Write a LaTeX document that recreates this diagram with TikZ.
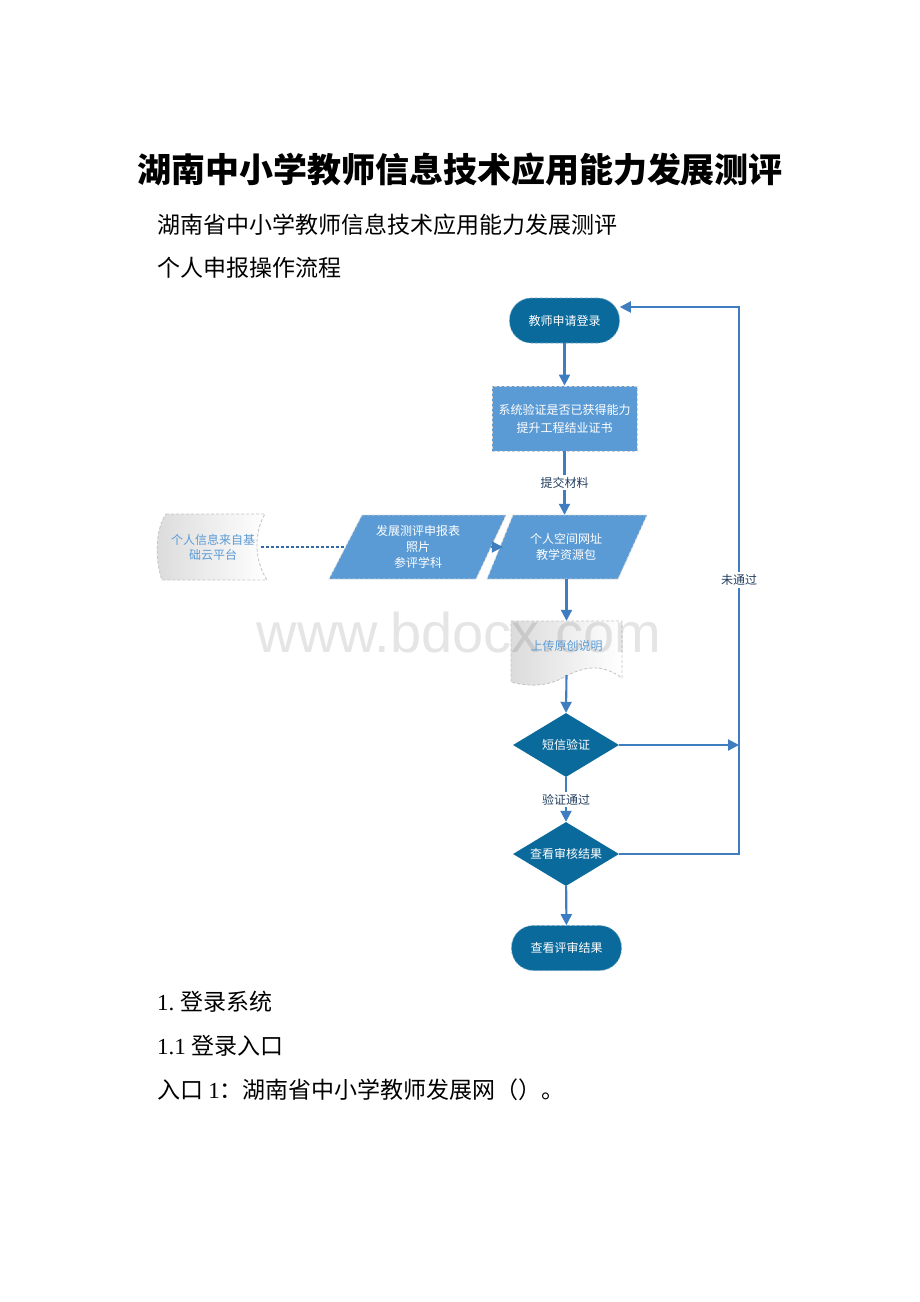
\documentclass[tikz,border=0pt]{standalone}
\usepackage{fontspec}
\setmainfont{Liberation Serif}
\newfontfamily\cjk{Noto Sans CJK SC}
\newfontfamily\wmfont{Liberation Sans}
\usetikzlibrary{shapes.geometric,arrows.meta,calc,backgrounds}
\definecolor{dark}{HTML}{0B6A9C}
\definecolor{lightbox}{HTML}{5B9BD5}
\definecolor{flow}{HTML}{3D7DC0}
\definecolor{doctext}{HTML}{5B9BD5}
\definecolor{lbl}{HTML}{243F60}
\begin{document}
\begin{tikzpicture}[x=1pt,y=-1pt,
  chart/.style={font=\cjk\fontsize{12}{16}\selectfont, align=center, text=white, inner sep=0pt},
  term/.style={chart, rectangle, rounded corners=22pt, fill=dark, draw=dark!60!white, densely dashed, line width=0.6pt, minimum width=110pt, minimum height=45pt},
  sysbox/.style={chart, rectangle, fill=lightbox, draw=gray!35, densely dashed, line width=0.8pt, minimum width=145pt, minimum height=65pt, font=\cjk\fontsize{12}{18}\selectfont},
  paratext/.style={chart, rectangle, minimum height=64pt},
  dec/.style={chart, diamond, fill=dark, aspect=1.66, minimum width=106pt, minimum height=64pt},
  doctxt/.style={chart, text=doctext, rectangle, font=\cjk\fontsize{12}{15}\selectfont},
  paraface/.style={fill=lightbox, draw=gray!30, densely dashed, line width=0.8pt},
  docface/.style={left color=gray!28, right color=white, draw=gray!45, densely dashed, line width=0.9pt},
  arr/.style={draw=flow, line width=2.1pt, -{Triangle[length=11pt,width=11pt]}},
  dashlink/.style={draw=flow!85!black, line width=1.8pt, dash pattern=on 3pt off 2pt},
  edgelbl/.style={font=\cjk\fontsize{12}{14}\selectfont, text=lbl, fill=white, inner sep=2pt},
  body/.style={font=\cjk\fontsize{23}{28}\selectfont, anchor=west, inner sep=0pt}
]
\begin{scope}[on background layer]
\fill[white] (0,0) rectangle (920,1302);
\end{scope}
\useasboundingbox (0,0) rectangle (920,1302);

% texts
\node[font=\cjk\bfseries\fontsize{34}{40}\selectfont, inner sep=0pt] (title) at (460,170) {湖南中小学教师信息技术应用能力发展测评};
\node[body] (sub1) at (157,225) {湖南省中小学教师信息技术应用能力发展测评};
\node[body] (sub2) at (157,268) {个人申报操作流程};
\node[body] (sec1) at (157,1002) {\rmfamily 1.\ \cjk 登录系统};
\node[body] (sec11) at (157,1046) {\rmfamily 1.1\ \cjk 登录入口};
\node[body] (entry) at (157,1090) {入口\ \rmfamily 1\cjk ：湖南省中小学教师发展网（）。};

% shapes behind the text nodes
\begin{scope}[on background layer]
\path[paraface] (362,515) -- (506,515) -- (476,579) -- (329,579) -- cycle;
\path[paraface] (513,515) -- (647,515) -- (618,579) -- (487,579) -- cycle;
\path[docface] (166,514) -- (265,514) .. controls (254,532) and (254,560) .. (267,580)
   -- (162,580) .. controls (155,560) and (155,530) .. (166,514) -- cycle;
\path[docface] (511,621) -- (622,621) -- (622,678) .. controls (600,662) and (582,668) .. (566,676)
   .. controls (546,688) and (526,686) .. (511,682) -- cycle;
\end{scope}

% watermark (behind the chart texts)
\node[font=\wmfont\fontsize{56}{60}\selectfont, text=black, opacity=0.1, anchor=base, inner sep=0pt] (wm) at (459,652) {www.bdocx.com};

% flow nodes
\node[term] (start) at (564.5,320.5) {教师申请登录};
\node[sysbox] (sys) at (564.5,418.5) {系统验证是否已获得能力\\提升工程结业证书};
\node[paratext, minimum width=146pt] (p1) at (418,547) {发展测评申报表\\照片\\参评学科};
\node[paratext, minimum width=132pt] (p2) at (566,547) {个人空间网址\\教学资源包};
\node[doctxt, minimum width=96pt, minimum height=66pt] (src) at (213,547) {个人信息来自基\\础云平台};
\node[doctxt, minimum width=111pt, minimum height=50pt] (up) at (566.5,646) {上传原创说明};
\node[dec] (d1) at (566,745) {短信验证};
\node[dec] (d2) at (566,854) {查看审核结果};
\node[term] (end) at (566.5,948) {查看评审结果};
\coordinate (looptop) at (739,307);

% connectors
\draw[arr] (start) -- (sys);
\draw[arr] (sys.south) -- (sys.south |- p2.north) node[edgelbl, pos=0.49] {提交材料};
\draw[dashlink] (src.east) -- (p1.west);
\draw[arr] (p1.east) -- ($(p2.west)+(3,0)$);
\draw[arr] (up.north |- p2.south) -- (up.north);
\draw[arr] ($(up.south)+(0,4)$) -- (d1.north);
\draw[arr] (d1.east) -- (d1.east -| looptop);
\draw[arr] (d1.south) -- (d2.north) node[edgelbl, midway] {验证通过};
\draw[arr] (d2.east) -- (d2.east -| looptop) -- (looptop) -- (looptop -| start.east);
\node[edgelbl] (fail) at (739,580) {未通过};
\draw[arr] (d2) -- (end);
\end{tikzpicture}
\end{document}
